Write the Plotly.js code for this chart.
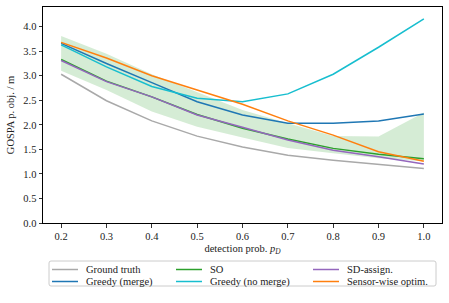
<!DOCTYPE html>
<html><head><meta charset="utf-8">
<script src="https://cdn.plot.ly/plotly-3.0.1.min.js"></script>
<style>html,body{margin:0;padding:0;background:#fff}</style>
</head><body>
<div id="chart" style="width:449px;height:303px"></div>
<script>
const pD = [0.2,0.3,0.4,0.5,0.6,0.7,0.8,0.9,1.0];
const groundTruth = [3.03,2.49,2.08,1.77,1.55,1.38,1.28,1.20,1.11];
const so = [3.33,2.89,2.57,2.21,1.93,1.71,1.52,1.40,1.31];
const soUpper = [3.81,3.45,3.03,2.67,2.30,2.03,1.77,1.76,2.25];
const soLower = [3.10,2.71,2.27,1.96,1.74,1.53,1.42,1.32,1.26];
const sdAssign = [3.31,2.88,2.57,2.20,1.95,1.69,1.48,1.35,1.20];
const greedyMerge = [3.66,3.25,2.86,2.47,2.20,2.03,2.03,2.08,2.22];
const greedyNoMerge = [3.63,3.18,2.78,2.54,2.47,2.63,3.03,3.58,4.16];
const sensorWise = [3.68,3.36,3.00,2.71,2.42,2.08,1.79,1.45,1.26];

// legend entries in reading order (row-major, 3 columns)
const legendNames = ['Ground truth','SO','SD-assign.','Greedy (merge)','Greedy (no merge)','Sensor-wise optim.'];
const legendColors = ['#a9a9a9','#2ca02c','#9467bd','#1f77b4','#17becf','#ff7f0e'];

const lw = 1.5;
const traces = [
  {x: pD, y: soUpper, mode:'lines', line:{width:0}, hoverinfo:'skip', showlegend:false},
  {x: pD, y: soLower, mode:'lines', line:{width:0}, fill:'tonexty', fillcolor:'rgba(44,160,44,0.2)', hoverinfo:'skip', showlegend:false},
  {x: pD, y: groundTruth, mode:'lines', name:'Ground truth', line:{color:'#a9a9a9', width:lw}},
  {x: pD, y: greedyMerge, mode:'lines', name:'Greedy (merge)', line:{color:'#1f77b4', width:lw}},
  {x: pD, y: so, mode:'lines', name:'SO', line:{color:'#2ca02c', width:lw}},
  {x: pD, y: greedyNoMerge, mode:'lines', name:'Greedy (no merge)', line:{color:'#17becf', width:lw}},
  {x: pD, y: sdAssign, mode:'lines', name:'SD-assign.', line:{color:'#9467bd', width:lw}},
  {x: pD, y: sensorWise, mode:'lines', name:'Sensor-wise optim.', line:{color:'#ff7f0e', width:lw}}
];

const W = 449, H = 303, mL = 43, mR = 7, mT = 7, mB = 80;
const pw = W - mL - mR, ph = H - mT - mB;
const px2x = p => (p - mL) / pw;
const py2y = p => (H - mB - p) / ph;

// custom legend box below the plot
const shapes = [];
const annotations = [];
const bx0 = 49, bx1 = 436, by0 = 261, by1 = 286, r = 2;
shapes.push({type:'path', xref:'paper', yref:'paper',
  path: `M ${px2x(bx0+r)} ${py2y(by0)} L ${px2x(bx1-r)} ${py2y(by0)} Q ${px2x(bx1)} ${py2y(by0)} ${px2x(bx1)} ${py2y(by0+r)} L ${px2x(bx1)} ${py2y(by1-r)} Q ${px2x(bx1)} ${py2y(by1)} ${px2x(bx1-r)} ${py2y(by1)} L ${px2x(bx0+r)} ${py2y(by1)} Q ${px2x(bx0)} ${py2y(by1)} ${px2x(bx0)} ${py2y(by1-r)} L ${px2x(bx0)} ${py2y(by0+r)} Q ${px2x(bx0)} ${py2y(by0)} ${px2x(bx0+r)} ${py2y(by0)} Z`,
  line:{color:'#cccccc', width:1}, fillcolor:'rgba(255,255,255,0.8)'});
const colLine = [52, 176, 313];
const colText = [84, 208, 345];
const rowY = [269.5, 281.5];
legendNames.forEach((nm, i) => {
  const c = i % 3, rr = Math.floor(i / 3);
  shapes.push({type:'line', xref:'paper', yref:'paper',
    x0: px2x(colLine[c]), x1: px2x(colLine[c] + 26), y0: py2y(rowY[rr]), y1: py2y(rowY[rr]),
    line:{color: legendColors[i], width: lw}});
  annotations.push({xref:'paper', yref:'paper', x: px2x(colText[c]), y: py2y(rowY[rr]),
    xanchor:'left', yanchor:'middle', text: nm, showarrow:false, font:{size:10.5}});
});

const layout = {
  width:W, height:H,
  margin:{l:mL, r:mR, t:mT, b:mB},
  paper_bgcolor:'#fff', plot_bgcolor:'#fff',
  font:{family:'"Liberation Serif", "DejaVu Serif", serif', size:10.5, color:'#222'},
  showlegend:false,
  xaxis:{
    range:[0.16,1.04], tickvals:[0.2,0.3,0.4,0.5,0.6,0.7,0.8,0.9,1.0],
    ticktext:['0.2','0.3','0.4','0.5','0.6','0.7','0.8','0.9','1.0'],
    showgrid:false, zeroline:false, showline:true, linecolor:'#000', linewidth:1, mirror:true,
    ticks:'outside', ticklen:3.5, tickwidth:0.8, tickcolor:'#000',
    title:{text:'detection prob. <i>p</i><sub><i>D</i></sub>', standoff:3, font:{size:10.5}}
  },
  yaxis:{
    range:[0,4.4], tickvals:[0,0.5,1,1.5,2,2.5,3,3.5,4],
    ticktext:['0.0','0.5','1.0','1.5','2.0','2.5','3.0','3.5','4.0'],
    showgrid:false, zeroline:false, showline:true, linecolor:'#000', linewidth:1, mirror:true,
    ticks:'outside', ticklen:3.5, tickwidth:0.8, tickcolor:'#000',
    title:{text:'GOSPA p. obj. / m', standoff:6, font:{size:10.5}}
  },
  shapes: shapes,
  annotations: annotations
};
Plotly.newPlot('chart', traces, layout, {displayModeBar:false, staticPlot:true});
</script>
</body></html>
